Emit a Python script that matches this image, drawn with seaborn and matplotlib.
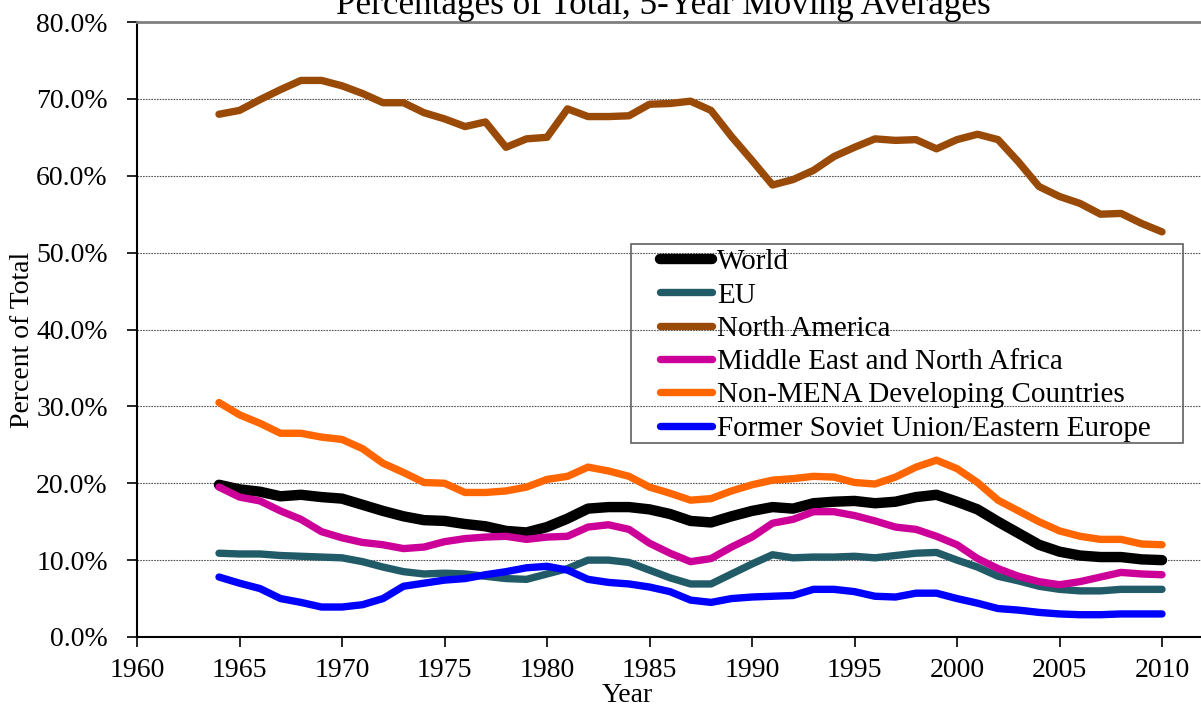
import matplotlib
matplotlib.use("Agg")
import matplotlib.pyplot as plt
from matplotlib.patches import Rectangle
import numpy as np
import pandas as pd
import seaborn as sns

years = list(range(1964, 2011))

world = [19.8, 19.2, 18.9, 18.3, 18.5, 18.2, 18.0, 17.2, 16.4, 15.7,
         15.2, 15.1, 14.7, 14.4, 13.8, 13.6, 14.3, 15.4, 16.7, 16.9,
         16.9, 16.6, 16.0, 15.1, 14.9, 15.7, 16.4, 16.9, 16.7, 17.4,
         17.6, 17.7, 17.4, 17.6, 18.2, 18.5, 17.6, 16.6, 15.0, 13.5,
         12.0, 11.1, 10.6, 10.4, 10.4, 10.1, 10.0]
eu = [10.9, 10.8, 10.8, 10.6, 10.5, 10.4, 10.3, 9.8, 9.1, 8.5,
      8.2, 8.3, 8.2, 7.9, 7.6, 7.5, 8.2, 8.9, 10.0, 10.0,
      9.7, 8.7, 7.7, 6.9, 6.9, 8.2, 9.5, 10.7, 10.3, 10.4,
      10.4, 10.5, 10.3, 10.6, 10.9, 11.0, 10.0, 9.1, 7.9, 7.3,
      6.6, 6.2, 6.0, 6.0, 6.2, 6.2, 6.2]
north_america = [68.0, 68.5, 69.9, 71.2, 72.4, 72.4, 71.7, 70.7, 69.5, 69.5,
                 68.2, 67.4, 66.4, 67.0, 63.7, 64.8, 65.0, 68.7, 67.7, 67.7,
                 67.8, 69.3, 69.4, 69.7, 68.5, 65.1, 62.0, 58.8, 59.5, 60.7,
                 62.5, 63.7, 64.8, 64.6, 64.7, 63.5, 64.7, 65.4, 64.7, 61.8,
                 58.6, 57.3, 56.4, 55.0, 55.1, 53.8, 52.7]
mena = [19.5, 18.2, 17.7, 16.4, 15.3, 13.7, 12.9, 12.3, 12.0, 11.5,
        11.7, 12.4, 12.8, 13.0, 13.1, 12.7, 13.0, 13.1, 14.3, 14.6,
        14.0, 12.2, 10.9, 9.8, 10.2, 11.7, 13.0, 14.8, 15.3, 16.3,
        16.3, 15.8, 15.1, 14.3, 14.0, 13.1, 12.0, 10.2, 8.9, 7.9,
        7.2, 6.8, 7.2, 7.8, 8.4, 8.2, 8.1]
non_mena = [30.5, 28.9, 27.8, 26.5, 26.5, 26.0, 25.7, 24.5, 22.6, 21.4,
            20.1, 20.0, 18.8, 18.8, 19.0, 19.5, 20.5, 20.9, 22.1, 21.6,
            20.9, 19.5, 18.7, 17.8, 18.0, 19.0, 19.8, 20.4, 20.6, 20.9,
            20.8, 20.1, 19.9, 20.8, 22.1, 23.0, 21.9, 20.1, 17.8, 16.4,
            15.0, 13.8, 13.1, 12.7, 12.7, 12.1, 12.0]
fsu = [7.8, 7.0, 6.3, 5.0, 4.5, 3.9, 3.9, 4.2, 5.0, 6.6,
       7.0, 7.4, 7.6, 8.1, 8.5, 9.0, 9.2, 8.7, 7.5, 7.1,
       6.9, 6.5, 5.9, 4.8, 4.5, 5.0, 5.2, 5.3, 5.4, 6.2,
       6.2, 5.9, 5.3, 5.2, 5.7, 5.7, 5.0, 4.4, 3.7, 3.5,
       3.2, 3.0, 2.9, 2.9, 3.0, 3.0, 3.0]

labels = ["World", "EU", "North America", "Middle East and North Africa",
          "Non-MENA Developing Countries", "Former Soviet Union/Eastern Europe"]
series = [world, eu, north_america, mena, non_mena, fsu]
colors = ["#000000", "#225b68", "#9a4a07", "#cc0099", "#ff6600", "#0000ff"]
widths = [7.5, 5.3, 5.3, 5.3, 5.3, 5.3]

df = pd.DataFrame({"Year": years})
for lab, vals in zip(labels, series):
    df[lab] = vals
dfm = df.melt(id_vars="Year", var_name="Region", value_name="Percent")

sns.set_theme(style="white")
plt.rcParams["font.family"] = ["Liberation Serif", "DejaVu Serif"]
plt.rcParams["text.color"] = "black"
plt.rcParams["axes.labelcolor"] = "black"
plt.rcParams["xtick.color"] = "black"
plt.rcParams["ytick.color"] = "black"

W, H = 1201, 713
fig = plt.figure(figsize=(W / 100, H / 100), dpi=100)
ax = fig.add_axes([137 / W, 1 - 637 / H, (1203 - 137) / W, (637 - 22) / H])

for lab, col, lw in zip(labels, colors, widths):
    sub = dfm[dfm["Region"] == lab]
    sns.lineplot(data=sub, x="Year", y="Percent", color=col, lw=lw, label=lab,
                 ax=ax, solid_capstyle="round", solid_joinstyle="round")

ax.set_xlim(1960, 2012)
ax.set_ylim(0, 80)
ax.set_xticks(range(1960, 2011, 5))
ax.set_yticks(np.arange(0, 81, 10))
ax.set_yticklabels([f"{v:.1f}%" for v in np.arange(0, 81, 10)])
ax.yaxis.grid(True, linestyle=(0, (1.5, 1)), color="#555555", lw=0.8)
ax.xaxis.grid(False)
ax.tick_params(axis="both", labelsize=20, direction="out",
               length=7, width=1.2, left=True, bottom=True)
ax.tick_params(axis="y", pad=14)
ax.tick_params(axis="x", pad=8)
for s in ["left", "bottom"]:
    ax.spines[s].set_color("black")
    ax.spines[s].set_linewidth(1.5)
ax.spines["top"].set_color("#808080")
ax.spines["top"].set_linewidth(2)
ax.spines["right"].set_visible(False)

ax.set_xlabel("Year", fontsize=20)
ax.set_ylabel("Percent of Total", fontsize=20)
ax.xaxis.set_label_coords(0.460, -0.0748)
ax.yaxis.set_label_coords(-0.0957, 0.483)
fig.text(663.5 / W, 1 - 14 / H, "Percentages of Total, 5-Year Moving Averages",
         fontsize=25.3, ha="center", va="baseline")

leg = ax.legend(loc="upper left", bbox_to_anchor=(660 / W, 1 - 249 / H),
                bbox_transform=fig.transFigure, fontsize=21, frameon=False,
                handlelength=1.78, handletextpad=0.17, labelspacing=0.235,
                borderpad=0, borderaxespad=0)
fig.patches.append(Rectangle((631 / W, 1 - 443 / H), (1183 - 631) / W, (443 - 244) / H,
                             transform=fig.transFigure, facecolor="none",
                             edgecolor="#606060", lw=1.2, zorder=5))

fig.savefig("out.png", dpi=100)
